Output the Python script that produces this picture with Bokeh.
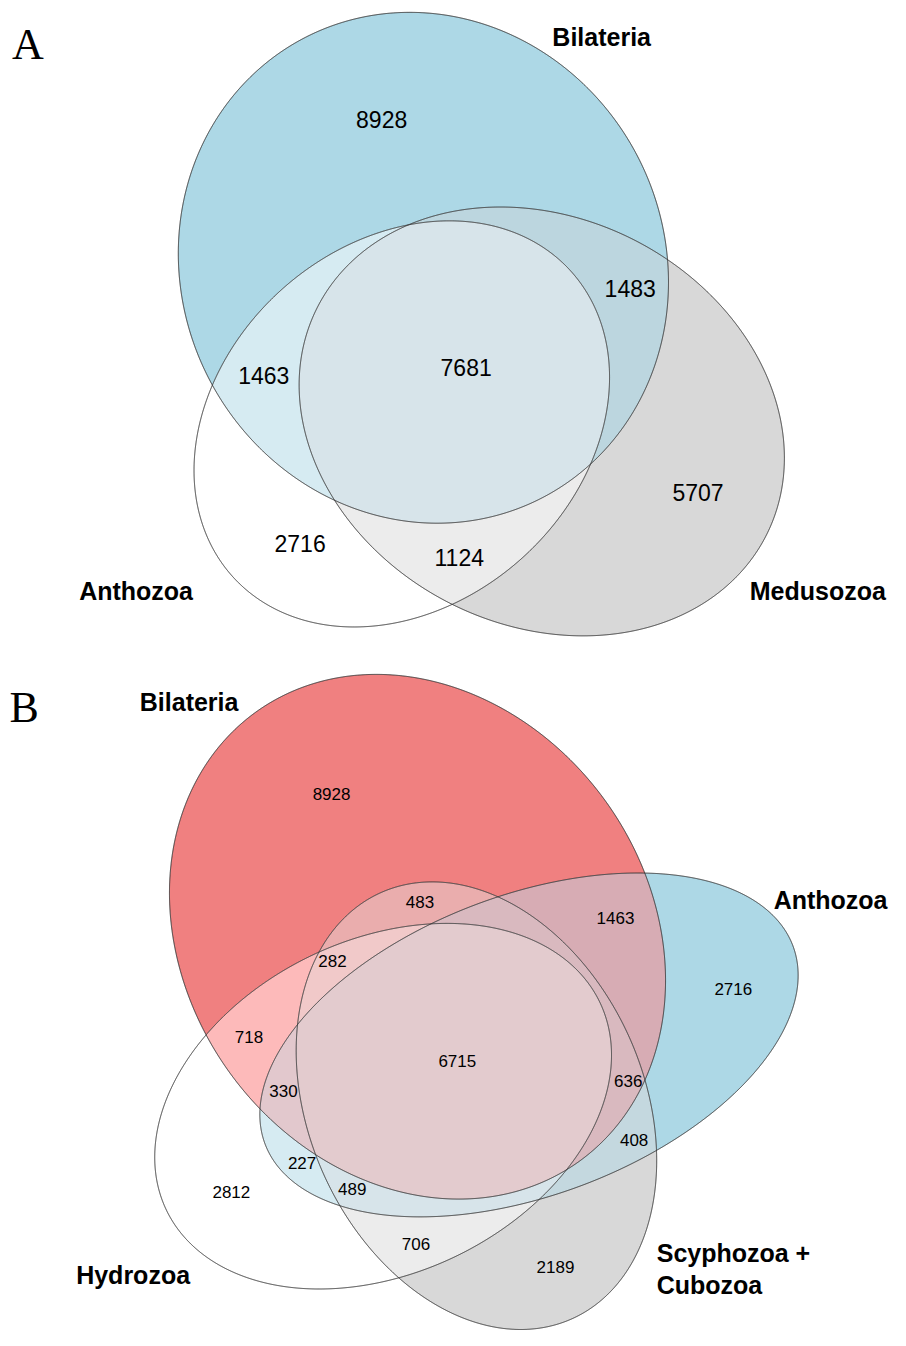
import numpy as np
from itertools import combinations
from bokeh.plotting import figure
from bokeh.models import Range1d, ColumnDataSource
from bokeh.core.properties import value
from bokeh.embed import file_html
from bokeh.resources import INLINE

# ---------------- data ----------------
# Panel A: three-set Venn
a_sets = ["Bilateria", "Anthozoa", "Medusozoa"]
a_regions = [("Bilateria",), ("Anthozoa",), ("Medusozoa",),
             ("Bilateria", "Anthozoa"), ("Bilateria", "Medusozoa"), ("Anthozoa", "Medusozoa"),
             ("Bilateria", "Anthozoa", "Medusozoa")]
a_counts = [8928, 2716, 5707, 1463, 1483, 1124, 7681]

# Panel B: four-set Venn
b_sets = ["Bilateria", "Anthozoa", "Hydrozoa", "Scyphozoa + Cubozoa"]
b_regions = [("Bilateria",), ("Anthozoa",), ("Hydrozoa",), ("Scyphozoa + Cubozoa",),
             ("Bilateria", "Anthozoa"), ("Bilateria", "Hydrozoa"), ("Bilateria", "Scyphozoa + Cubozoa"),
             ("Anthozoa", "Hydrozoa"), ("Anthozoa", "Scyphozoa + Cubozoa"), ("Hydrozoa", "Scyphozoa + Cubozoa"),
             ("Bilateria", "Anthozoa", "Hydrozoa"), ("Bilateria", "Anthozoa", "Scyphozoa + Cubozoa"),
             ("Bilateria", "Hydrozoa", "Scyphozoa + Cubozoa"), ("Anthozoa", "Hydrozoa", "Scyphozoa + Cubozoa"),
             ("Bilateria", "Anthozoa", "Hydrozoa", "Scyphozoa + Cubozoa")]
b_counts = [8928, 2716, 2812, 2189, 1463, 718, 483, 227, 408, 706, 330, 636, 282, 489, 6715]

# ---------------- layout / style ----------------
# ellipse shapes: centre x, centre y, half-width, half-height, xy-covariance term
a_shapes = {"Bilateria": (430.5, 270.5, 249.5, 258.5, 3619.0),
            "Anthozoa": (408.5, 428.5, 211.5, 205.5, -9967.0),
            "Medusozoa": (551.0, 426.0, 247.0, 217.0, 9114.0)}
b_shapes = {"Bilateria": (424.5, 947.5, 252.5, 265.5, 11151.0),
            "Anthozoa": (538.0, 1057.0, 274.0, 174.0, -19300.0),
            "Hydrozoa": (389.5, 1119.0, 232.5, 185.0, -12025.0),
            "Scyphozoa + Cubozoa": (484.5, 1118.5, 183.5, 226.5, 10200.0)}

a_colors = ["#ADD8E6", "#FFFFFF", "#D8D8D8", "#D6EBF2", "#BCD6DF", "#ECECEC", "#D7E4EA"]
b_colors = ["#F08080", "#ADD8E6", "#FFFFFF", "#D8D8D8",
            "#D7ACB4", "#FDBABA", "#EAADAD", "#D6EBF2", "#C4D8DF", "#ECECEC",
            "#E2C8CD", "#D9B9BF", "#F1C9C9", "#D7E4EA", "#E3CBCE"]

a_num_pos = [(388, 120), (305, 550), (710, 498), (268, 380), (641, 291), (467, 564), (474, 371)]
b_num_pos = [(337, 803), (746, 1000), (235, 1206), (565, 1282), (626, 929), (253, 1049), (427, 912),
             (307, 1176), (645, 1153), (423, 1258), (288, 1104), (639, 1093), (338, 972), (358, 1203),
             (465, 1073)]

a_set_labels = ["Bilateria", "Anthozoa", "Medusozoa"]
a_set_pos = [(612, 37), (138, 598), (832, 598)]
b_set_labels = ["Bilateria", "Anthozoa", "Hydrozoa"]
b_set_pos = [(192, 710), (845, 910), (135, 1290)]
b_left_labels = ["Scyphozoa +", "Cubozoa"]
b_left_pos = [(668, 1268), (668, 1300)]
panel_letters = ["A", "B"]
panel_pos = [(28, 45), (24, 716)]


# ---------------- geometry helpers ----------------
def boundary(e, n=3000):
    cx, cy, W, H, k = e
    t = np.linspace(0, 2 * np.pi, n, endpoint=False)
    l21 = k / W
    l22 = np.sqrt(H * H - l21 * l21)
    return cx + W * np.cos(t), cy + l21 * np.cos(t) + l22 * np.sin(t)


def inside(e, x, y, tol=1e-6):
    cx, cy, W, H, k = e
    det = W * W * H * H - k * k
    dx, dy = x - cx, y - cy
    q = (H * H * dx * dx - 2 * k * dx * dy + W * W * dy * dy) / det
    return q <= 1 + tol


def intersection(shapes):
    xs, ys = [], []
    for i, e in enumerate(shapes):
        bx, by = boundary(e)
        m = np.ones_like(bx, dtype=bool)
        for j, f in enumerate(shapes):
            if j != i:
                m &= inside(f, bx, by)
        xs.append(bx[m]); ys.append(by[m])
    x = np.concatenate(xs); y = np.concatenate(ys)
    if len(x) < 3:
        return None, None
    mx, my = x.mean(), y.mean()
    order = np.argsort(np.arctan2(y - my, x - mx))
    return x[order], y[order]


p = figure(width=890, height=1330, x_range=Range1d(0, 906), y_range=Range1d(1346, 0),
           output_backend="svg", toolbar_location=None, x_axis_location=None,
           y_axis_location=None, min_border=0)
p.grid.visible = False
p.outline_line_color = None
p.background_fill_color = "white"
p.border_fill_color = "white"


def draw_venn(sets, shapes, regions, colors):
    color_of = {frozenset(r): c for r, c in zip(regions, colors)}
    for size in range(1, len(sets) + 1):
        for combo in combinations(sets, size):
            x, y = intersection([shapes[s] for s in combo])
            if x is None:
                continue
            p.patch(list(x), list(y), fill_color=color_of[frozenset(combo)], fill_alpha=1.0,
                    line_color=None)
    for s in sets:
        bx, by = boundary(shapes[s])
        p.line(list(bx) + [bx[0]], list(by) + [by[0]], line_color="#333333", line_width=1)


def draw_text(labels, pos, size, style="normal", font="Liberation Sans", align="center"):
    src = ColumnDataSource(dict(x=[q[0] for q in pos], y=[q[1] for q in pos], t=labels))
    p.text(x="x", y="y", text="t", source=src, text_font=value(font), text_font_size=size,
           text_font_style=style, text_align=align, text_baseline="middle", text_color="black")


draw_venn(a_sets, a_shapes, a_regions, a_colors)
draw_venn(b_sets, b_shapes, b_regions, b_colors)

draw_text([str(c) for c in a_counts], a_num_pos, "23px")
draw_text([str(c) for c in b_counts], b_num_pos, "17px")
draw_text(a_set_labels, a_set_pos, "25px", style="bold")
draw_text(b_set_labels, b_set_pos, "25px", style="bold")
draw_text(b_left_labels, b_left_pos, "25px", style="bold", align="left")
draw_text(panel_letters, panel_pos, "44px", font="Liberation Serif")

open("out.html", "w").write(file_html(p, INLINE))
